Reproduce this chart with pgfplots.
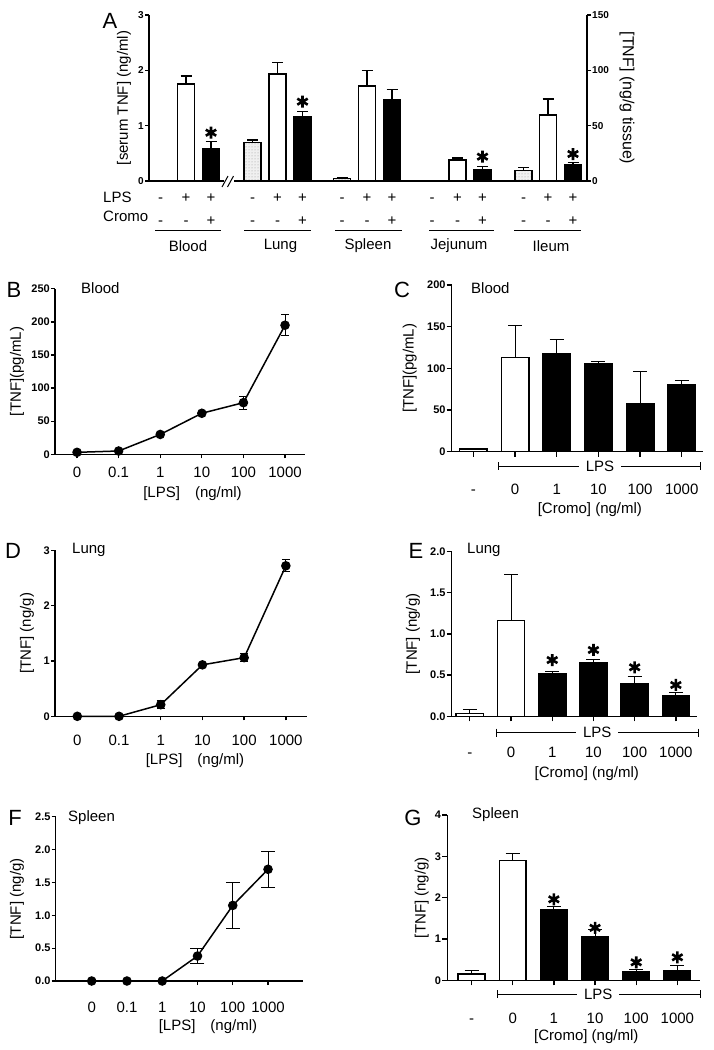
\documentclass[border=0pt]{standalone}
\usepackage{fontspec}
\setmainfont{Liberation Sans}
\usepackage{pgfplots}
\pgfplotsset{compat=1.18}
\usetikzlibrary{patterns}
\newcommand{\fs}[1]{\fontsize{#1}{#1}\selectfont}

\pgfplotsset{
  gp/.style={
    scale only axis, anchor=south west, clip=false,
    axis x line*=bottom, axis y line*=left,
    axis line style={line width=1.3pt},
    every tick/.append style={line width=1.3pt, black},
    tick align=outside, major tick length=4pt,
    ymin=0, xtick={0,...,5},
    /pgf/number format/assume math mode=true,
    yticklabel style={font=\fs{11}\bfseries, inner sep=1pt},
    xticklabel style={font=\fs{15}, text height=10.5pt, text depth=4.5pt},
  },
  yl/.style={every axis y label/.style={at={(rel axis cs:0,0.5)}, xshift=#1, rotate=90, anchor=center, font=\fs{15}}},
  xl/.style 2 args={every axis x label/.style={at={(rel axis cs:#1,0)}, yshift=#2, anchor=center, font=\fs{15}}},
  wbar/.style={ybar, bar shift=0pt, fill=white, draw=black, line width=1.5pt},
  kbar/.style={ybar, bar shift=0pt, fill=black, draw=black, line width=1.5pt},
  sbar/.style={ybar, bar shift=0pt, fill=gray!12, draw=black, line width=1.1pt, postaction={pattern=dots, pattern color=gray!80}},
  eb/.style 2 args={error bars/.cd, y dir=plus, y explicit, error bar style={line width=#1, black}, error mark options={rotate=90, line width=#1, black, mark size=#2}},
  ln/.style={black, line width=1.5pt, mark=*, mark size=4pt},
  ebb/.style={error bars/.cd, y dir=both, y explicit, error bar style={line width=1pt, black}, error mark options={rotate=90, line width=1pt, black, mark size=#1}},
  star/.style={only marks, mark=asterisk, mark size=6pt, mark options={line width=2.6pt, black}},
}

\begin{document}
\begin{tikzpicture}
\path[use as bounding box] (0pt,0pt) rectangle (714pt,-1050pt);

%%%%%%%%%%%% Panel A: blood (left axis)
\begin{axis}[gp, at={(149pt,-181pt)}, width=438pt, height=166pt,
  xmin=149, xmax=587, ymax=3, ytick={0,1,2,3},
  yticklabel style={font=\fs{10}\bfseries},
  xtick={160.6,186,211,252.5,277.5,302.5,342,367,392,432,457.5,482.5,523.5,548,573},
  xticklabels={-,+,+,-,+,+,-,+,+,-,+,+,-,+,+},
  xticklabel style={yshift=-3.5pt},
  extra x ticks={160.6,186,211,252.5,277.5,302.5,342,367,392,432,457.5,482.5,523.5,548,573},
  extra x tick labels={-,-,+,-,-,+,-,-,+,-,-,+,-,-,+},
  extra x tick style={xticklabel style={yshift=-22.5pt}},
  xtick style={draw=none},
  yl=-25pt, ylabel={[serum TNF] (ng/ml)},
  bar width=17]
\addplot[wbar] coordinates {(160.6,0)};
\addplot[wbar, eb={1.3pt}{5.5pt}] coordinates {(186,1.75) +- (0,0.15)};
\addplot[kbar, eb={1.3pt}{5.5pt}] coordinates {(211,0.59) +- (0,0.12)};
\addplot[star] coordinates {(211,0.873)};
\end{axis}

%%%%%%%%%%%% Panel A: tissues (right axis)
\begin{axis}[gp, at={(149pt,-181pt)}, width=438pt, height=166pt,
  xmin=149, xmax=587, ymax=150, ytick={0,50,100,150},
  axis x line=none, axis y line*=right,
  yticklabel style={font=\fs{10}\bfseries},
  every axis y label/.style={at={(rel axis cs:1,0.5)}, xshift=40pt, rotate=-90, anchor=center, font=\fs{16}},
  ylabel={[TNF] (ng/g tissue)}, bar width=17]
\addplot[sbar, eb={1.3pt}{5.5pt}] coordinates {(252.5,34.5) +- (0,2.5) (342,2.5) +- (0,0.5) (432,0.3) +- (0,0) (523.5,9.5) +- (0,2.5)};
\addplot[wbar, eb={1.3pt}{5.5pt}] coordinates {(277.5,96.5) +- (0,10.5) (367,86) +- (0,14) (457.5,19) +- (0,1.8) (548,59.5) +- (0,14.5)};
\addplot[kbar, eb={1.3pt}{5.5pt}] coordinates {(302.5,57.8) +- (0,4.7) (392,73) +- (0,10) (482.5,10.2) +- (0,3) (573,14.8) +- (0,1.7)};
\addplot[star] coordinates {(302.5,71.7) (482.5,22) (573,24.4)};
\end{axis}

%%%%%%%%%%%% Panel B
\begin{axis}[gp, at={(55pt,-454.3pt)}, width=250pt, height=165.5pt,
  xmin=-0.53, xmax=5.48, ymax=250, ytick={0,50,100,150,200,250},
  xticklabels={0,0.1,1,10,100,1000}, xticklabel style={yshift=-5.5pt},
  yl=-38pt, ylabel={[TNF](pg/mL)},
  xl={0.55}{-39pt}, xlabel={[LPS]\quad(ng/ml)}]
\addplot[ln, ebb=4pt] coordinates {(0,3) +- (0,0) (1,5) +- (0,0) (2,30) +- (0,0) (3,62) +- (0,0) (4,78) +- (0,10) (5,195) +- (0,16)};
\end{axis}

%%%%%%%%%%%% Panel C
\begin{axis}[gp, at={(451.7pt,-451.7pt)}, width=251.3pt, height=166.7pt,
  xmin=-0.52, xmax=5.51, ymax=200, ytick={0,50,100,150,200}, major tick length=5pt,
  xticklabels={-,0,1,10,100,1000}, xticklabel style={yshift=-23.5pt},
  yl=-42pt, ylabel={[TNF](pg/mL)},
  xl={0.55}{-58pt}, xlabel={[Cromo] (ng/ml)}, bar width=0.66]
\addplot[wbar, eb={1pt}{7pt}] coordinates {(0,3.2) +- (0,1.2) (1,113) +- (0,39)};
\addplot[kbar, eb={1pt}{7pt}] coordinates {(2,118) +- (0,17) (3,105) +- (0,3) (4,58) +- (0,38) (5,80) +- (0,5)};
\end{axis}

%%%%%%%%%%%% Panel D
\begin{axis}[gp, at={(55pt,-716.3pt)}, width=251.7pt, height=166pt,
  xmin=-0.535, xmax=5.5, ymax=3, ytick={0,1,2,3},
  xticklabels={0,0.1,1,10,100,1000}, xticklabel style={yshift=-11pt},
  yl=-28pt, ylabel={[TNF] (ng/g)},
  xl={0.556}{-44pt}, xlabel={[LPS]\quad(ng/ml)}]
\addplot[ln, ebb=4pt] coordinates {(0,0) +- (0,0.02) (1,0) +- (0,0.02) (2,0.21) +- (0,0.07) (3,0.93) +- (0,0.02) (4,1.06) +- (0,0.07) (5,2.72) +- (0,0.11)};
\end{axis}

%%%%%%%%%%%% Panel E
\begin{axis}[gp, at={(451.7pt,-716.3pt)}, width=245.6pt, height=164.8pt,
  xmin=-0.44, xmax=5.52, ymax=2, ytick={0,0.5,1,1.5,2}, major tick length=5pt,
  yticklabel style={/pgf/number format/.cd, fixed, fixed zerofill, precision=1},
  xticklabels={-,0,1,10,100,1000}, xticklabel style={yshift=-22.5pt},
  yl=-38.7pt, ylabel={[TNF] (ng/g)},
  xl={0.55}{-57pt}, xlabel={[Cromo] (ng/ml)}, bar width=0.66]
\addplot[wbar, eb={1pt}{7pt}] coordinates {(0,0.036) +- (0,0.05) (1,1.16) +- (0,0.56)};
\addplot[kbar, eb={1pt}{7pt}] coordinates {(2,0.52) +- (0,0.027) (3,0.65) +- (0,0.04) (4,0.40) +- (0,0.08) (5,0.25) +- (0,0.04)};
\addplot[star] coordinates {(2,0.683) (3,0.805) (4,0.595) (5,0.38)};
\end{axis}

%%%%%%%%%%%% Panel F
\begin{axis}[gp, at={(55.7pt,-981pt)}, width=247.6pt, height=164.3pt,
  xmin=-1.02, xmax=6.0, ymax=2.5, ytick={0,0.5,1,1.5,2,2.5},
  yticklabel style={/pgf/number format/.cd, fixed, fixed zerofill, precision=1},
  xticklabels={0,0.1,1,10,100,1000}, xticklabel style={yshift=-13pt},
  yl=-38.7pt, ylabel={[TNF] (ng/g)},
  xl={0.615}{-45.7pt}, xlabel={[LPS]\quad(ng/ml)}]
\addplot[ln, ebb=7pt] coordinates {(0,0) +- (0,0) (1,0) +- (0,0) (2,0) +- (0,0) (3,0.38) +- (0,0.12) (4,1.15) +- (0,0.35) (5,1.70) +- (0,0.27)};
\end{axis}

%%%%%%%%%%%% Panel G
\begin{axis}[gp, at={(447.3pt,-980.3pt)}, width=252.7pt, height=165.3pt,
  xmin=-0.59, xmax=5.55, ymax=4, ytick={0,1,2,3,4}, major tick length=5pt,
  xticklabels={-,0,1,10,100,1000}, xticklabel style={yshift=-24.5pt},
  yl=-25.6pt, ylabel={[TNF] (ng/g)},
  xl={0.55}{-56.4pt}, xlabel={[Cromo] (ng/ml)}, bar width=0.65]
\addplot[wbar, eb={1pt}{7pt}] coordinates {(0,0.153) +- (0,0.073) (1,2.90) +- (0,0.17)};
\addplot[kbar, eb={1pt}{7pt}] coordinates {(2,1.70) +- (0,0.08) (3,1.06) +- (0,0.16) (4,0.21) +- (0,0.04) (5,0.23) +- (0,0.125)};
\addplot[star] coordinates {(2,1.96) (3,1.27) (4,0.435) (5,0.557)};
\end{axis}

%%%%%%%%%%%% Annotations
\begin{scope}[x=1pt, y=-1pt]
  % panel letters
  \node[font=\fs{22}] at (110,21) {A};
  \node[font=\fs{22}] at (14,290) {B};
  \node[font=\fs{22}] at (402,290) {C};
  \node[font=\fs{22}] at (13,551) {D};
  \node[font=\fs{22}] at (416,551) {E};
  \node[font=\fs{22}] at (15,818) {F};
  \node[font=\fs{22}] at (413,818) {G};
  % titles
  \node[font=\fs{15}, anchor=west, inner sep=0pt] at (81,288) {Blood};
  \node[font=\fs{15}, anchor=west, inner sep=0pt] at (471,288) {Blood};
  \node[font=\fs{15}, anchor=west, inner sep=0pt] at (72,550) {Lung};
  \node[font=\fs{15}, anchor=west, inner sep=0pt] at (467,550) {Lung};
  \node[font=\fs{15}, anchor=west, inner sep=0pt] at (68,818) {Spleen};
  \node[font=\fs{15}, anchor=west, inner sep=0pt] at (472,815) {Spleen};
  % panel A row labels, group lines and names
  \node[font=\fs{15}, anchor=west, inner sep=0pt] at (103,197) {LPS};
  \node[font=\fs{15}, anchor=west, inner sep=0pt] at (103,216) {Cromo};
  \foreach \a/\b/\c/\n in {155/221/188/Blood, 244/311/280.5/Lung, 335/402/368/Spleen, 429/494/459/Jejunum, 514/581/551/Ileum}{
    \draw[line width=0.9pt] (\a,230) -- (\b,230);
    \node[font=\fs{15}] at (\c,246) {\n};
  }
  % axis break
  \fill[white] (224,179) rectangle (234,183.5);
  \draw[line width=1pt] (222,187) -- (228,176);
  \draw[line width=1pt] (227.5,187) -- (233.5,176);
  % LPS brackets
  \foreach \l/\r/\m/\y in {498/700.7/600/466, 496.7/698.3/597.3/732.7, 497.3/700/598.3/994}{
    \draw[line width=0.9pt] (\l,\y) -- (\r,\y);
    \draw[line width=0.9pt] (\l,\y-4) -- (\l,\y+4);
    \draw[line width=0.9pt] (\r,\y-4) -- (\r,\y+4);
    \node[font=\fs{15}, fill=white, inner xsep=7pt, inner ysep=1pt] at (\m,\y) {LPS};
  }
\end{scope}
\end{tikzpicture}
\end{document}
